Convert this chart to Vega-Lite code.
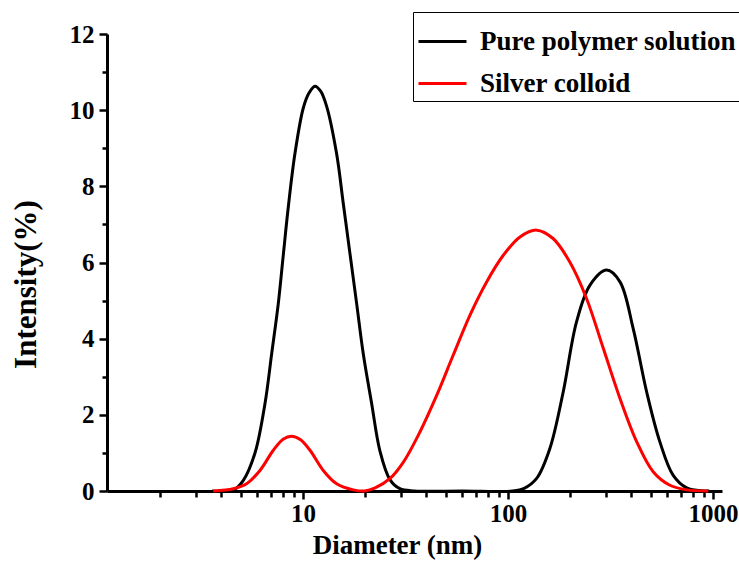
{
  "$schema": "https://vega.github.io/schema/vega-lite/v6.json",
  "width": 615,
  "height": 457,
  "autosize": {"type": "none"},
  "padding": {"left": 107, "top": 34, "right": 17, "bottom": 70},
  "background": "white",
  "config": {
    "view": {"stroke": null},
    "font": "Times New Roman, Liberation Serif, DejaVu Serif, serif",
    "axis": {
      "domainColor": "black",
      "domainWidth": 3,
      "tickColor": "black",
      "tickWidth": 2.5,
      "grid": false,
      "labelFont": "Times New Roman, Liberation Serif, DejaVu Serif, serif",
      "labelFontWeight": "bold",
      "labelFontSize": 25,
      "labelColor": "black",
      "titleFont": "Times New Roman, Liberation Serif, DejaVu Serif, serif",
      "titleFontWeight": "bold",
      "titleColor": "black"
    }
  },
  "data": {
    "values": [
      {"series": "Pure polymer solution", "d": 3.6, "v": 0},
      {"series": "Pure polymer solution", "d": 4.56, "v": 0.02},
      {"series": "Pure polymer solution", "d": 5.12, "v": 0.28},
      {"series": "Pure polymer solution", "d": 5.83, "v": 0.99},
      {"series": "Pure polymer solution", "d": 6.53, "v": 2.3},
      {"series": "Pure polymer solution", "d": 7.04, "v": 3.61},
      {"series": "Pure polymer solution", "d": 7.58, "v": 4.92},
      {"series": "Pure polymer solution", "d": 8.02, "v": 6.2},
      {"series": "Pure polymer solution", "d": 8.48, "v": 7.45},
      {"series": "Pure polymer solution", "d": 9.14, "v": 8.86},
      {"series": "Pure polymer solution", "d": 10.03, "v": 10.05},
      {"series": "Pure polymer solution", "d": 10.7, "v": 10.45},
      {"series": "Pure polymer solution", "d": 11.44, "v": 10.63},
      {"series": "Pure polymer solution", "d": 12.2, "v": 10.5},
      {"series": "Pure polymer solution", "d": 13.05, "v": 10.1},
      {"series": "Pure polymer solution", "d": 14.59, "v": 8.86},
      {"series": "Pure polymer solution", "d": 15.73, "v": 7.55},
      {"series": "Pure polymer solution", "d": 16.95, "v": 6.24},
      {"series": "Pure polymer solution", "d": 18.28, "v": 4.92},
      {"series": "Pure polymer solution", "d": 19.68, "v": 3.61},
      {"series": "Pure polymer solution", "d": 21.63, "v": 2.3},
      {"series": "Pure polymer solution", "d": 23.75, "v": 1.05},
      {"series": "Pure polymer solution", "d": 26.56, "v": 0.3},
      {"series": "Pure polymer solution", "d": 29.7, "v": 0.06},
      {"series": "Pure polymer solution", "d": 35, "v": 0},
      {"series": "Pure polymer solution", "d": 60, "v": 0},
      {"series": "Pure polymer solution", "d": 105, "v": 0},
      {"series": "Pure polymer solution", "d": 120, "v": 0.07},
      {"series": "Pure polymer solution", "d": 138, "v": 0.33},
      {"series": "Pure polymer solution", "d": 160, "v": 1.11},
      {"series": "Pure polymer solution", "d": 186, "v": 2.6},
      {"series": "Pure polymer solution", "d": 216, "v": 4.44},
      {"series": "Pure polymer solution", "d": 251, "v": 5.4},
      {"series": "Pure polymer solution", "d": 303, "v": 5.8},
      {"series": "Pure polymer solution", "d": 352, "v": 5.49},
      {"series": "Pure polymer solution", "d": 408, "v": 4.27},
      {"series": "Pure polymer solution", "d": 475, "v": 2.6},
      {"series": "Pure polymer solution", "d": 551, "v": 1.29},
      {"series": "Pure polymer solution", "d": 640, "v": 0.41},
      {"series": "Pure polymer solution", "d": 745, "v": 0.08},
      {"series": "Pure polymer solution", "d": 897, "v": 0},
      {"series": "Pure polymer solution", "d": 960, "v": 0},
      {"series": "Silver colloid", "d": 3.65, "v": 0},
      {"series": "Silver colloid", "d": 4.57, "v": 0.06},
      {"series": "Silver colloid", "d": 5.31, "v": 0.19},
      {"series": "Silver colloid", "d": 6.17, "v": 0.54},
      {"series": "Silver colloid", "d": 7.17, "v": 1.07},
      {"series": "Silver colloid", "d": 8.0, "v": 1.36},
      {"series": "Silver colloid", "d": 8.8, "v": 1.44},
      {"series": "Silver colloid", "d": 9.7, "v": 1.35},
      {"series": "Silver colloid", "d": 10.82, "v": 1.07},
      {"series": "Silver colloid", "d": 12.56, "v": 0.54},
      {"series": "Silver colloid", "d": 14.6, "v": 0.19},
      {"series": "Silver colloid", "d": 17.6, "v": 0.03},
      {"series": "Silver colloid", "d": 20.0, "v": 0.0},
      {"series": "Silver colloid", "d": 22.5, "v": 0.08},
      {"series": "Silver colloid", "d": 26.6, "v": 0.33},
      {"series": "Silver colloid", "d": 30.9, "v": 0.76},
      {"series": "Silver colloid", "d": 37.2, "v": 1.55},
      {"series": "Silver colloid", "d": 44.9, "v": 2.51},
      {"series": "Silver colloid", "d": 54.1, "v": 3.57},
      {"series": "Silver colloid", "d": 65.3, "v": 4.62},
      {"series": "Silver colloid", "d": 78.7, "v": 5.49},
      {"series": "Silver colloid", "d": 94.9, "v": 6.19},
      {"series": "Silver colloid", "d": 114.5, "v": 6.67},
      {"series": "Silver colloid", "d": 138, "v": 6.85},
      {"series": "Silver colloid", "d": 166, "v": 6.63},
      {"series": "Silver colloid", "d": 200, "v": 6.02},
      {"series": "Silver colloid", "d": 242, "v": 5.05},
      {"series": "Silver colloid", "d": 292, "v": 3.74},
      {"series": "Silver colloid", "d": 352, "v": 2.43},
      {"series": "Silver colloid", "d": 425, "v": 1.29},
      {"series": "Silver colloid", "d": 512, "v": 0.5},
      {"series": "Silver colloid", "d": 617, "v": 0.15},
      {"series": "Silver colloid", "d": 745, "v": 0.03},
      {"series": "Silver colloid", "d": 949, "v": 0}
    ]
  },
  "layer": [
    {
      "mark": {"type": "line", "opacity": 0},
      "encoding": {
        "x": {
          "field": "d",
          "type": "quantitative",
          "scale": {"type": "log", "domain": [1.107, 1107], "nice": false},
          "axis": {
            "orient": "bottom",
            "title": null,
            "domain": false,
            "labels": false,
            "values": [2,3,4,5,6,7,8,9,20,30,40,50,60,70,80,90,200,300,400,500,600,700,800,900],
            "tickSize": 6
          }
        },
        "y": {
          "field": "v",
          "type": "quantitative",
          "scale": {"domain": [0, 12], "nice": false},
          "axis": {
            "orient": "left",
            "title": null,
            "domain": false,
            "labels": false,
            "values": [1,3,5,7,9,11],
            "tickSize": 5
          }
        },
        "detail": {"field": "series"}
      }
    },
    {
      "mark": {"type": "line", "interpolate": "catmull-rom", "strokeWidth": 3},
      "encoding": {
        "x": {
          "field": "d",
          "type": "quantitative",
          "scale": {"type": "log", "domain": [1.107, 1107], "nice": false},
          "axis": {
            "orient": "bottom",
            "title": "Diameter (nm)",
            "titleFontSize": 27,
            "titleX": 290,
            "titleY": 62,
            "titleBaseline": "alphabetic",
            "values": [10, 100, 1000],
            "format": "d",
            "tickSize": 8,
            "labelPadding": 2,
            "labelFlush": false,
            "labelOverlap": false
          }
        },
        "y": {
          "field": "v",
          "type": "quantitative",
          "scale": {"domain": [0, 12], "nice": false},
          "axis": {
            "orient": "left",
            "title": "Intensity(%)",
            "titleFontSize": 31,
            "titleX": -72,
            "titleY": 250,
            "titleBaseline": "alphabetic",
            "values": [0,2,4,6,8,10,12],
            "tickSize": 8,
            "labelPadding": 5,
            "labelOverlap": false,
            "labelFlush": false
          }
        },
        "color": {
          "field": "series",
          "type": "nominal",
          "scale": {"domain": ["Pure polymer solution", "Silver colloid"], "range": ["#000000", "#ff0000"]},
          "legend": {
            "title": null,
            "orient": "none",
            "legendX": 306,
            "legendY": -22,
            "strokeColor": "black",
            "padding": 4,
            "symbolType": "stroke",
            "symbolSize": 2304,
            "symbolStrokeWidth": 3,
            "labelFont": "Times New Roman, Liberation Serif, DejaVu Serif, serif",
            "labelFontWeight": "bold",
            "labelFontSize": 27,
            "labelColor": "black",
            "labelOffset": 12,
            "labelLimit": 400,
            "rowPadding": 3
          }
        }
      }
    }
  ],
  "resolve": {"axis": {"x": "independent", "y": "independent"}}
}
